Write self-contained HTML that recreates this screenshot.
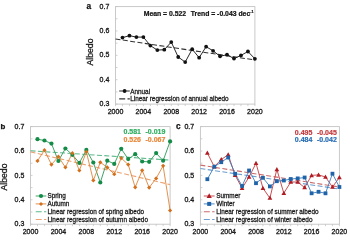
<!DOCTYPE html>
<html><head><meta charset="utf-8"><style>
html,body{margin:0;padding:0;background:#fff;width:350px;height:237px;overflow:hidden}
svg{display:block;will-change:transform}
.t{font-family:"Liberation Sans", sans-serif;font-size:7px;fill:#1a1a1a;stroke:#1a1a1a;stroke-width:0.32px}
.lg{font-family:"Liberation Sans", sans-serif;font-size:6.4px;fill:#1a1a1a;stroke:#1a1a1a;stroke-width:0.26px}
.bt{font-family:"Liberation Sans", sans-serif;font-size:7px;font-weight:bold;fill:#111;stroke:#111;stroke-width:0.2px}
.lt{font-family:"Liberation Sans", sans-serif;font-size:8.6px;font-weight:bold;fill:#111;stroke:#111;stroke-width:0.25px}
.al{font-family:"Liberation Sans", sans-serif;font-size:8.7px;fill:#1a1a1a;stroke:#1a1a1a;stroke-width:0.3px}
</style></head><body>
<svg width="350" height="237" viewBox="0 0 350 237">
<rect x="115.5" y="6.6" width="139.4" height="97.5" fill="none" stroke="#c4c4c4" stroke-width="0.9"/>
<line x1="115.5" y1="104.10" x2="117.5" y2="104.10" stroke="#c4c4c4" stroke-width="0.8"/>
<line x1="115.5" y1="91.91" x2="117.5" y2="91.91" stroke="#c4c4c4" stroke-width="0.8"/>
<line x1="115.5" y1="79.72" x2="117.5" y2="79.72" stroke="#c4c4c4" stroke-width="0.8"/>
<line x1="115.5" y1="67.54" x2="117.5" y2="67.54" stroke="#c4c4c4" stroke-width="0.8"/>
<line x1="115.5" y1="55.35" x2="117.5" y2="55.35" stroke="#c4c4c4" stroke-width="0.8"/>
<line x1="115.5" y1="43.16" x2="117.5" y2="43.16" stroke="#c4c4c4" stroke-width="0.8"/>
<line x1="115.5" y1="30.97" x2="117.5" y2="30.97" stroke="#c4c4c4" stroke-width="0.8"/>
<line x1="115.5" y1="18.79" x2="117.5" y2="18.79" stroke="#c4c4c4" stroke-width="0.8"/>
<line x1="115.5" y1="6.60" x2="117.5" y2="6.60" stroke="#c4c4c4" stroke-width="0.8"/>
<line x1="115.50" y1="104.1" x2="115.50" y2="106.1" stroke="#c4c4c4" stroke-width="0.8"/>
<line x1="122.47" y1="104.1" x2="122.47" y2="106.1" stroke="#c4c4c4" stroke-width="0.8"/>
<line x1="129.44" y1="104.1" x2="129.44" y2="106.1" stroke="#c4c4c4" stroke-width="0.8"/>
<line x1="136.41" y1="104.1" x2="136.41" y2="106.1" stroke="#c4c4c4" stroke-width="0.8"/>
<line x1="143.38" y1="104.1" x2="143.38" y2="106.1" stroke="#c4c4c4" stroke-width="0.8"/>
<line x1="150.35" y1="104.1" x2="150.35" y2="106.1" stroke="#c4c4c4" stroke-width="0.8"/>
<line x1="157.32" y1="104.1" x2="157.32" y2="106.1" stroke="#c4c4c4" stroke-width="0.8"/>
<line x1="164.29" y1="104.1" x2="164.29" y2="106.1" stroke="#c4c4c4" stroke-width="0.8"/>
<line x1="171.26" y1="104.1" x2="171.26" y2="106.1" stroke="#c4c4c4" stroke-width="0.8"/>
<line x1="178.23" y1="104.1" x2="178.23" y2="106.1" stroke="#c4c4c4" stroke-width="0.8"/>
<line x1="185.20" y1="104.1" x2="185.20" y2="106.1" stroke="#c4c4c4" stroke-width="0.8"/>
<line x1="192.17" y1="104.1" x2="192.17" y2="106.1" stroke="#c4c4c4" stroke-width="0.8"/>
<line x1="199.14" y1="104.1" x2="199.14" y2="106.1" stroke="#c4c4c4" stroke-width="0.8"/>
<line x1="206.11" y1="104.1" x2="206.11" y2="106.1" stroke="#c4c4c4" stroke-width="0.8"/>
<line x1="213.08" y1="104.1" x2="213.08" y2="106.1" stroke="#c4c4c4" stroke-width="0.8"/>
<line x1="220.05" y1="104.1" x2="220.05" y2="106.1" stroke="#c4c4c4" stroke-width="0.8"/>
<line x1="227.02" y1="104.1" x2="227.02" y2="106.1" stroke="#c4c4c4" stroke-width="0.8"/>
<line x1="233.99" y1="104.1" x2="233.99" y2="106.1" stroke="#c4c4c4" stroke-width="0.8"/>
<line x1="240.96" y1="104.1" x2="240.96" y2="106.1" stroke="#c4c4c4" stroke-width="0.8"/>
<line x1="247.93" y1="104.1" x2="247.93" y2="106.1" stroke="#c4c4c4" stroke-width="0.8"/>
<line x1="254.90" y1="104.1" x2="254.90" y2="106.1" stroke="#c4c4c4" stroke-width="0.8"/>
<text x="109.3" y="106.20" text-anchor="end" class="t">0.3</text>
<text x="109.3" y="81.82" text-anchor="end" class="t">0.4</text>
<text x="109.3" y="57.45" text-anchor="end" class="t">0.5</text>
<text x="109.3" y="33.07" text-anchor="end" class="t">0.6</text>
<text x="109.3" y="8.70" text-anchor="end" class="t">0.7</text>
<text x="115.50" y="114.20" text-anchor="middle" class="t">2000</text>
<text x="143.38" y="114.20" text-anchor="middle" class="t">2004</text>
<text x="171.26" y="114.20" text-anchor="middle" class="t">2008</text>
<text x="199.14" y="114.20" text-anchor="middle" class="t">2012</text>
<text x="227.02" y="114.20" text-anchor="middle" class="t">2016</text>
<text x="254.90" y="114.20" text-anchor="middle" class="t">2020</text>
<line x1="115.5" y1="38.98" x2="254.9" y2="59.94" stroke="#333333" stroke-width="1.1" stroke-dasharray="5,2.4"/>
<polyline points="122.47,37.60 129.44,35.70 136.41,37.10 143.38,37.10 150.35,45.60 157.32,50.10 164.29,49.70 171.26,42.10 178.23,57.00 185.20,62.10 192.17,49.20 199.14,57.70 206.11,46.70 213.08,50.80 220.05,56.30 227.02,54.70 233.99,58.60 240.96,55.40 247.93,51.50 254.90,58.80" fill="none" stroke="#111111" stroke-width="0.9" stroke-linejoin="round"/>
<circle cx="122.47" cy="37.60" r="1.9" fill="#111111"/>
<circle cx="129.44" cy="35.70" r="1.9" fill="#111111"/>
<circle cx="136.41" cy="37.10" r="1.9" fill="#111111"/>
<circle cx="143.38" cy="37.10" r="1.9" fill="#111111"/>
<circle cx="150.35" cy="45.60" r="1.9" fill="#111111"/>
<circle cx="157.32" cy="50.10" r="1.9" fill="#111111"/>
<circle cx="164.29" cy="49.70" r="1.9" fill="#111111"/>
<circle cx="171.26" cy="42.10" r="1.9" fill="#111111"/>
<circle cx="178.23" cy="57.00" r="1.9" fill="#111111"/>
<circle cx="185.20" cy="62.10" r="1.9" fill="#111111"/>
<circle cx="192.17" cy="49.20" r="1.9" fill="#111111"/>
<circle cx="199.14" cy="57.70" r="1.9" fill="#111111"/>
<circle cx="206.11" cy="46.70" r="1.9" fill="#111111"/>
<circle cx="213.08" cy="50.80" r="1.9" fill="#111111"/>
<circle cx="220.05" cy="56.30" r="1.9" fill="#111111"/>
<circle cx="227.02" cy="54.70" r="1.9" fill="#111111"/>
<circle cx="233.99" cy="58.60" r="1.9" fill="#111111"/>
<circle cx="240.96" cy="55.40" r="1.9" fill="#111111"/>
<circle cx="247.93" cy="51.50" r="1.9" fill="#111111"/>
<circle cx="254.90" cy="58.80" r="1.9" fill="#111111"/>
<text x="86.4" y="9.3" class="lt" style="font-size:8.3px">a</text>
<text x="93.1" y="52" class="al" text-anchor="middle" transform="rotate(-90 93.1 52)">Albedo</text>
<text x="143.7" y="15.6" class="bt" style="font-size:6.85px">Mean = 0.522</text>
<text x="190.7" y="15.6" class="bt" style="font-size:6.85px">Trend = -0.043 dec<tspan dy="-2.9" style="font-size:3.8px">-1</tspan></text>
<line x1="119.2" y1="91.0" x2="129.8" y2="91.0" stroke="#111111" stroke-width="0.9"/>
<circle cx="124.6" cy="91.0" r="1.9" fill="#111111"/>
<text x="130.2" y="93.6" class="lg">Annual</text>
<line x1="119.2" y1="98.9" x2="129.8" y2="98.9" stroke="#333" stroke-width="1.1" stroke-dasharray="6,2.3"/>
<text x="130.2" y="101.4" class="lg">Linear regression of annual albedo</text>
<rect x="30.5" y="126.6" width="139.6" height="97.6" fill="none" stroke="#c4c4c4" stroke-width="0.9"/>
<line x1="30.5" y1="224.20" x2="32.5" y2="224.20" stroke="#c4c4c4" stroke-width="0.8"/>
<line x1="30.5" y1="212.00" x2="32.5" y2="212.00" stroke="#c4c4c4" stroke-width="0.8"/>
<line x1="30.5" y1="199.80" x2="32.5" y2="199.80" stroke="#c4c4c4" stroke-width="0.8"/>
<line x1="30.5" y1="187.60" x2="32.5" y2="187.60" stroke="#c4c4c4" stroke-width="0.8"/>
<line x1="30.5" y1="175.40" x2="32.5" y2="175.40" stroke="#c4c4c4" stroke-width="0.8"/>
<line x1="30.5" y1="163.20" x2="32.5" y2="163.20" stroke="#c4c4c4" stroke-width="0.8"/>
<line x1="30.5" y1="151.00" x2="32.5" y2="151.00" stroke="#c4c4c4" stroke-width="0.8"/>
<line x1="30.5" y1="138.80" x2="32.5" y2="138.80" stroke="#c4c4c4" stroke-width="0.8"/>
<line x1="30.5" y1="126.60" x2="32.5" y2="126.60" stroke="#c4c4c4" stroke-width="0.8"/>
<line x1="30.50" y1="224.2" x2="30.50" y2="226.2" stroke="#c4c4c4" stroke-width="0.8"/>
<line x1="37.48" y1="224.2" x2="37.48" y2="226.2" stroke="#c4c4c4" stroke-width="0.8"/>
<line x1="44.46" y1="224.2" x2="44.46" y2="226.2" stroke="#c4c4c4" stroke-width="0.8"/>
<line x1="51.44" y1="224.2" x2="51.44" y2="226.2" stroke="#c4c4c4" stroke-width="0.8"/>
<line x1="58.42" y1="224.2" x2="58.42" y2="226.2" stroke="#c4c4c4" stroke-width="0.8"/>
<line x1="65.40" y1="224.2" x2="65.40" y2="226.2" stroke="#c4c4c4" stroke-width="0.8"/>
<line x1="72.38" y1="224.2" x2="72.38" y2="226.2" stroke="#c4c4c4" stroke-width="0.8"/>
<line x1="79.36" y1="224.2" x2="79.36" y2="226.2" stroke="#c4c4c4" stroke-width="0.8"/>
<line x1="86.34" y1="224.2" x2="86.34" y2="226.2" stroke="#c4c4c4" stroke-width="0.8"/>
<line x1="93.32" y1="224.2" x2="93.32" y2="226.2" stroke="#c4c4c4" stroke-width="0.8"/>
<line x1="100.30" y1="224.2" x2="100.30" y2="226.2" stroke="#c4c4c4" stroke-width="0.8"/>
<line x1="107.28" y1="224.2" x2="107.28" y2="226.2" stroke="#c4c4c4" stroke-width="0.8"/>
<line x1="114.26" y1="224.2" x2="114.26" y2="226.2" stroke="#c4c4c4" stroke-width="0.8"/>
<line x1="121.24" y1="224.2" x2="121.24" y2="226.2" stroke="#c4c4c4" stroke-width="0.8"/>
<line x1="128.22" y1="224.2" x2="128.22" y2="226.2" stroke="#c4c4c4" stroke-width="0.8"/>
<line x1="135.20" y1="224.2" x2="135.20" y2="226.2" stroke="#c4c4c4" stroke-width="0.8"/>
<line x1="142.18" y1="224.2" x2="142.18" y2="226.2" stroke="#c4c4c4" stroke-width="0.8"/>
<line x1="149.16" y1="224.2" x2="149.16" y2="226.2" stroke="#c4c4c4" stroke-width="0.8"/>
<line x1="156.14" y1="224.2" x2="156.14" y2="226.2" stroke="#c4c4c4" stroke-width="0.8"/>
<line x1="163.12" y1="224.2" x2="163.12" y2="226.2" stroke="#c4c4c4" stroke-width="0.8"/>
<line x1="170.10" y1="224.2" x2="170.10" y2="226.2" stroke="#c4c4c4" stroke-width="0.8"/>
<text x="24.3" y="226.30" text-anchor="end" class="t">0.3</text>
<text x="24.3" y="201.90" text-anchor="end" class="t">0.4</text>
<text x="24.3" y="177.50" text-anchor="end" class="t">0.5</text>
<text x="24.3" y="153.10" text-anchor="end" class="t">0.6</text>
<text x="24.3" y="128.70" text-anchor="end" class="t">0.7</text>
<text x="30.50" y="234.30" text-anchor="middle" class="t">2000</text>
<text x="58.42" y="234.30" text-anchor="middle" class="t">2004</text>
<text x="86.34" y="234.30" text-anchor="middle" class="t">2008</text>
<text x="114.26" y="234.30" text-anchor="middle" class="t">2012</text>
<text x="142.18" y="234.30" text-anchor="middle" class="t">2016</text>
<text x="170.10" y="234.30" text-anchor="middle" class="t">2020</text>
<line x1="30.5" y1="150.77" x2="170.1" y2="160.04" stroke="#5cb98a" stroke-width="1.1" stroke-dasharray="5,2.4"/>
<line x1="30.5" y1="151.89" x2="170.1" y2="184.59" stroke="#eba372" stroke-width="1.1" stroke-dasharray="5,2.4"/>
<polyline points="37.48,139.20 44.46,140.50 51.44,143.60 58.42,161.00 65.40,148.50 72.38,154.80 79.36,162.90 86.34,149.90 93.32,162.50 100.30,182.50 107.28,160.70 114.26,163.90 121.24,148.80 128.22,159.10 135.20,154.20 142.18,161.50 149.16,161.80 156.14,153.10 163.12,160.70 170.10,141.40" fill="none" stroke="#2a9a58" stroke-width="0.9" stroke-linejoin="round"/>
<polyline points="37.48,160.90 44.46,150.20 51.44,164.60 58.42,156.70 65.40,167.30 72.38,153.20 79.36,170.50 86.34,151.80 93.32,180.40 100.30,162.30 107.28,167.40 114.26,174.20 121.24,158.10 128.22,164.60 135.20,187.30 142.18,170.30 149.16,187.60 156.14,178.40 163.12,165.80 170.10,210.50" fill="none" stroke="#e0843a" stroke-width="0.9" stroke-linejoin="round"/>
<circle cx="37.48" cy="139.20" r="2.1" fill="#148c48"/>
<circle cx="44.46" cy="140.50" r="2.1" fill="#148c48"/>
<circle cx="51.44" cy="143.60" r="2.1" fill="#148c48"/>
<circle cx="58.42" cy="161.00" r="2.1" fill="#148c48"/>
<circle cx="65.40" cy="148.50" r="2.1" fill="#148c48"/>
<circle cx="72.38" cy="154.80" r="2.1" fill="#148c48"/>
<circle cx="79.36" cy="162.90" r="2.1" fill="#148c48"/>
<circle cx="86.34" cy="149.90" r="2.1" fill="#148c48"/>
<circle cx="93.32" cy="162.50" r="2.1" fill="#148c48"/>
<circle cx="100.30" cy="182.50" r="2.1" fill="#148c48"/>
<circle cx="107.28" cy="160.70" r="2.1" fill="#148c48"/>
<circle cx="114.26" cy="163.90" r="2.1" fill="#148c48"/>
<circle cx="121.24" cy="148.80" r="2.1" fill="#148c48"/>
<circle cx="128.22" cy="159.10" r="2.1" fill="#148c48"/>
<circle cx="135.20" cy="154.20" r="2.1" fill="#148c48"/>
<circle cx="142.18" cy="161.50" r="2.1" fill="#148c48"/>
<circle cx="149.16" cy="161.80" r="2.1" fill="#148c48"/>
<circle cx="156.14" cy="153.10" r="2.1" fill="#148c48"/>
<circle cx="163.12" cy="160.70" r="2.1" fill="#148c48"/>
<circle cx="170.10" cy="141.40" r="2.1" fill="#148c48"/>
<path d="M37.48,158.80L39.58,160.90L37.48,163.00L35.38,160.90Z" fill="#d2701e"/>
<path d="M44.46,148.10L46.56,150.20L44.46,152.30L42.36,150.20Z" fill="#d2701e"/>
<path d="M51.44,162.50L53.54,164.60L51.44,166.70L49.34,164.60Z" fill="#d2701e"/>
<path d="M58.42,154.60L60.52,156.70L58.42,158.80L56.32,156.70Z" fill="#d2701e"/>
<path d="M65.40,165.20L67.50,167.30L65.40,169.40L63.30,167.30Z" fill="#d2701e"/>
<path d="M72.38,151.10L74.48,153.20L72.38,155.30L70.28,153.20Z" fill="#d2701e"/>
<path d="M79.36,168.40L81.46,170.50L79.36,172.60L77.26,170.50Z" fill="#d2701e"/>
<path d="M86.34,149.70L88.44,151.80L86.34,153.90L84.24,151.80Z" fill="#d2701e"/>
<path d="M93.32,178.30L95.42,180.40L93.32,182.50L91.22,180.40Z" fill="#d2701e"/>
<path d="M100.30,160.20L102.40,162.30L100.30,164.40L98.20,162.30Z" fill="#d2701e"/>
<path d="M107.28,165.30L109.38,167.40L107.28,169.50L105.18,167.40Z" fill="#d2701e"/>
<path d="M114.26,172.10L116.36,174.20L114.26,176.30L112.16,174.20Z" fill="#d2701e"/>
<path d="M121.24,156.00L123.34,158.10L121.24,160.20L119.14,158.10Z" fill="#d2701e"/>
<path d="M128.22,162.50L130.32,164.60L128.22,166.70L126.12,164.60Z" fill="#d2701e"/>
<path d="M135.20,185.20L137.30,187.30L135.20,189.40L133.10,187.30Z" fill="#d2701e"/>
<path d="M142.18,168.20L144.28,170.30L142.18,172.40L140.08,170.30Z" fill="#d2701e"/>
<path d="M149.16,185.50L151.26,187.60L149.16,189.70L147.06,187.60Z" fill="#d2701e"/>
<path d="M156.14,176.30L158.24,178.40L156.14,180.50L154.04,178.40Z" fill="#d2701e"/>
<path d="M163.12,163.70L165.22,165.80L163.12,167.90L161.02,165.80Z" fill="#d2701e"/>
<path d="M170.10,208.40L172.20,210.50L170.10,212.60L168.00,210.50Z" fill="#d2701e"/>
<text x="0.4" y="129.0" class="lt" style="font-size:7.9px">b</text>
<text x="7.4" y="177" class="al" text-anchor="middle" transform="rotate(-90 7.4 177)">Albedo</text>
<text x="123.5" y="134.4" class="bt" style="fill:#2fae60;stroke:#2fae60">0.581</text>
<text x="165.4" y="134.4" class="bt" style="fill:#2fae60;stroke:#2fae60" text-anchor="end">-0.019</text>
<text x="123.5" y="142" class="bt" style="fill:#e8873a;stroke:#e8873a">0.526</text>
<text x="165.4" y="142" class="bt" style="fill:#e8873a;stroke:#e8873a" text-anchor="end">-0.067</text>
<line x1="35.7" y1="196.0" x2="46.3" y2="196.0" stroke="#2a9a58" stroke-width="0.9"/>
<circle cx="41" cy="196.0" r="2.1" fill="#148c48"/>
<text x="47.4" y="198.3" class="lg">Spring</text>
<line x1="35.7" y1="203.9" x2="46.3" y2="203.9" stroke="#e0843a" stroke-width="0.9"/>
<path d="M41,201.9L43,203.9L41,205.9L39,203.9Z" fill="#d2701e"/>
<text x="47.4" y="206.20000000000002" class="lg">Autumn</text>
<line x1="35.7" y1="211.7" x2="46.3" y2="211.7" stroke="#5cb98a" stroke-width="1.1" stroke-dasharray="6,2.3"/>
<text x="47.4" y="214.0" class="lg">Linear regression of spring albedo</text>
<line x1="35.7" y1="219.5" x2="46.3" y2="219.5" stroke="#eba372" stroke-width="1.1" stroke-dasharray="6,2.3"/>
<text x="47.4" y="221.8" class="lg">Linear regression of autumn albedo</text>
<rect x="200.4" y="126.6" width="138.99999999999997" height="97.6" fill="none" stroke="#c4c4c4" stroke-width="0.9"/>
<line x1="200.4" y1="224.20" x2="202.4" y2="224.20" stroke="#c4c4c4" stroke-width="0.8"/>
<line x1="200.4" y1="212.00" x2="202.4" y2="212.00" stroke="#c4c4c4" stroke-width="0.8"/>
<line x1="200.4" y1="199.80" x2="202.4" y2="199.80" stroke="#c4c4c4" stroke-width="0.8"/>
<line x1="200.4" y1="187.60" x2="202.4" y2="187.60" stroke="#c4c4c4" stroke-width="0.8"/>
<line x1="200.4" y1="175.40" x2="202.4" y2="175.40" stroke="#c4c4c4" stroke-width="0.8"/>
<line x1="200.4" y1="163.20" x2="202.4" y2="163.20" stroke="#c4c4c4" stroke-width="0.8"/>
<line x1="200.4" y1="151.00" x2="202.4" y2="151.00" stroke="#c4c4c4" stroke-width="0.8"/>
<line x1="200.4" y1="138.80" x2="202.4" y2="138.80" stroke="#c4c4c4" stroke-width="0.8"/>
<line x1="200.4" y1="126.60" x2="202.4" y2="126.60" stroke="#c4c4c4" stroke-width="0.8"/>
<line x1="200.40" y1="224.2" x2="200.40" y2="226.2" stroke="#c4c4c4" stroke-width="0.8"/>
<line x1="207.35" y1="224.2" x2="207.35" y2="226.2" stroke="#c4c4c4" stroke-width="0.8"/>
<line x1="214.30" y1="224.2" x2="214.30" y2="226.2" stroke="#c4c4c4" stroke-width="0.8"/>
<line x1="221.25" y1="224.2" x2="221.25" y2="226.2" stroke="#c4c4c4" stroke-width="0.8"/>
<line x1="228.20" y1="224.2" x2="228.20" y2="226.2" stroke="#c4c4c4" stroke-width="0.8"/>
<line x1="235.15" y1="224.2" x2="235.15" y2="226.2" stroke="#c4c4c4" stroke-width="0.8"/>
<line x1="242.10" y1="224.2" x2="242.10" y2="226.2" stroke="#c4c4c4" stroke-width="0.8"/>
<line x1="249.05" y1="224.2" x2="249.05" y2="226.2" stroke="#c4c4c4" stroke-width="0.8"/>
<line x1="256.00" y1="224.2" x2="256.00" y2="226.2" stroke="#c4c4c4" stroke-width="0.8"/>
<line x1="262.95" y1="224.2" x2="262.95" y2="226.2" stroke="#c4c4c4" stroke-width="0.8"/>
<line x1="269.90" y1="224.2" x2="269.90" y2="226.2" stroke="#c4c4c4" stroke-width="0.8"/>
<line x1="276.85" y1="224.2" x2="276.85" y2="226.2" stroke="#c4c4c4" stroke-width="0.8"/>
<line x1="283.80" y1="224.2" x2="283.80" y2="226.2" stroke="#c4c4c4" stroke-width="0.8"/>
<line x1="290.75" y1="224.2" x2="290.75" y2="226.2" stroke="#c4c4c4" stroke-width="0.8"/>
<line x1="297.70" y1="224.2" x2="297.70" y2="226.2" stroke="#c4c4c4" stroke-width="0.8"/>
<line x1="304.65" y1="224.2" x2="304.65" y2="226.2" stroke="#c4c4c4" stroke-width="0.8"/>
<line x1="311.60" y1="224.2" x2="311.60" y2="226.2" stroke="#c4c4c4" stroke-width="0.8"/>
<line x1="318.55" y1="224.2" x2="318.55" y2="226.2" stroke="#c4c4c4" stroke-width="0.8"/>
<line x1="325.50" y1="224.2" x2="325.50" y2="226.2" stroke="#c4c4c4" stroke-width="0.8"/>
<line x1="332.45" y1="224.2" x2="332.45" y2="226.2" stroke="#c4c4c4" stroke-width="0.8"/>
<line x1="339.40" y1="224.2" x2="339.40" y2="226.2" stroke="#c4c4c4" stroke-width="0.8"/>
<text x="194.20000000000002" y="226.30" text-anchor="end" class="t">0.3</text>
<text x="194.20000000000002" y="201.90" text-anchor="end" class="t">0.4</text>
<text x="194.20000000000002" y="177.50" text-anchor="end" class="t">0.5</text>
<text x="194.20000000000002" y="153.10" text-anchor="end" class="t">0.6</text>
<text x="194.20000000000002" y="128.70" text-anchor="end" class="t">0.7</text>
<text x="200.40" y="234.30" text-anchor="middle" class="t">2000</text>
<text x="228.20" y="234.30" text-anchor="middle" class="t">2004</text>
<text x="256.00" y="234.30" text-anchor="middle" class="t">2008</text>
<text x="283.80" y="234.30" text-anchor="middle" class="t">2012</text>
<text x="311.60" y="234.30" text-anchor="middle" class="t">2016</text>
<text x="339.40" y="234.30" text-anchor="middle" class="t">2020</text>
<line x1="200.4" y1="165.09" x2="339.4" y2="187.05" stroke="#cc6b6b" stroke-width="1.1" stroke-dasharray="5,2.4"/>
<line x1="200.4" y1="168.54" x2="339.4" y2="189.04" stroke="#6c9ecf" stroke-width="1.1" stroke-dasharray="5,2.4"/>
<polyline points="207.35,153.00 214.30,166.70 221.25,159.50 228.20,154.80 235.15,175.30 242.10,188.20 249.05,177.00 256.00,163.20 262.95,188.20 269.90,198.10 276.85,169.40 283.80,193.20 290.75,182.00 297.70,182.00 304.65,187.60 311.60,175.40 318.55,174.90 325.50,177.00 332.45,187.00 339.40,177.50" fill="none" stroke="#c43a3e" stroke-width="0.9" stroke-linejoin="round"/>
<polyline points="207.35,179.20 214.30,166.70 221.25,162.20 228.20,157.50 235.15,173.80 242.10,186.00 249.05,170.50 256.00,183.20 262.95,177.80 269.90,186.40 276.85,181.20 283.80,180.50 290.75,179.00 297.70,178.40 304.65,177.50 311.60,193.30 318.55,191.80 325.50,193.30 332.45,173.70 339.40,187.00" fill="none" stroke="#3a7cc0" stroke-width="0.9" stroke-linejoin="round"/>
<path d="M207.35,150.50L209.72,154.75L204.97,154.75Z" fill="#b01c24"/>
<path d="M214.30,164.20L216.68,168.45L211.93,168.45Z" fill="#b01c24"/>
<path d="M221.25,157.00L223.62,161.25L218.88,161.25Z" fill="#b01c24"/>
<path d="M228.20,152.30L230.57,156.55L225.82,156.55Z" fill="#b01c24"/>
<path d="M235.15,172.80L237.53,177.05L232.78,177.05Z" fill="#b01c24"/>
<path d="M242.10,185.70L244.47,189.95L239.72,189.95Z" fill="#b01c24"/>
<path d="M249.05,174.50L251.43,178.75L246.68,178.75Z" fill="#b01c24"/>
<path d="M256.00,160.70L258.38,164.95L253.62,164.95Z" fill="#b01c24"/>
<path d="M262.95,185.70L265.32,189.95L260.57,189.95Z" fill="#b01c24"/>
<path d="M269.90,195.60L272.27,199.85L267.52,199.85Z" fill="#b01c24"/>
<path d="M276.85,166.90L279.23,171.15L274.48,171.15Z" fill="#b01c24"/>
<path d="M283.80,190.70L286.17,194.95L281.42,194.95Z" fill="#b01c24"/>
<path d="M290.75,179.50L293.12,183.75L288.38,183.75Z" fill="#b01c24"/>
<path d="M297.70,179.50L300.07,183.75L295.32,183.75Z" fill="#b01c24"/>
<path d="M304.65,185.10L307.02,189.35L302.27,189.35Z" fill="#b01c24"/>
<path d="M311.60,172.90L313.97,177.15L309.22,177.15Z" fill="#b01c24"/>
<path d="M318.55,172.40L320.92,176.65L316.17,176.65Z" fill="#b01c24"/>
<path d="M325.50,174.50L327.88,178.75L323.12,178.75Z" fill="#b01c24"/>
<path d="M332.45,184.50L334.82,188.75L330.07,188.75Z" fill="#b01c24"/>
<path d="M339.40,175.00L341.77,179.25L337.02,179.25Z" fill="#b01c24"/>
<rect x="205.45" y="177.30" width="3.8" height="3.8" fill="#1f64a8"/>
<rect x="212.40" y="164.80" width="3.8" height="3.8" fill="#1f64a8"/>
<rect x="219.35" y="160.30" width="3.8" height="3.8" fill="#1f64a8"/>
<rect x="226.30" y="155.60" width="3.8" height="3.8" fill="#1f64a8"/>
<rect x="233.25" y="171.90" width="3.8" height="3.8" fill="#1f64a8"/>
<rect x="240.20" y="184.10" width="3.8" height="3.8" fill="#1f64a8"/>
<rect x="247.15" y="168.60" width="3.8" height="3.8" fill="#1f64a8"/>
<rect x="254.10" y="181.30" width="3.8" height="3.8" fill="#1f64a8"/>
<rect x="261.05" y="175.90" width="3.8" height="3.8" fill="#1f64a8"/>
<rect x="268.00" y="184.50" width="3.8" height="3.8" fill="#1f64a8"/>
<rect x="274.95" y="179.30" width="3.8" height="3.8" fill="#1f64a8"/>
<rect x="281.90" y="178.60" width="3.8" height="3.8" fill="#1f64a8"/>
<rect x="288.85" y="177.10" width="3.8" height="3.8" fill="#1f64a8"/>
<rect x="295.80" y="176.50" width="3.8" height="3.8" fill="#1f64a8"/>
<rect x="302.75" y="175.60" width="3.8" height="3.8" fill="#1f64a8"/>
<rect x="309.70" y="191.40" width="3.8" height="3.8" fill="#1f64a8"/>
<rect x="316.65" y="189.90" width="3.8" height="3.8" fill="#1f64a8"/>
<rect x="323.60" y="191.40" width="3.8" height="3.8" fill="#1f64a8"/>
<rect x="330.55" y="171.80" width="3.8" height="3.8" fill="#1f64a8"/>
<rect x="337.50" y="185.10" width="3.8" height="3.8" fill="#1f64a8"/>
<text x="176.0" y="129.3" class="lt" style="font-size:8.3px">c</text>
<text x="294.8" y="134.8" class="bt" style="fill:#c43a3e;stroke:#c43a3e">0.495</text>
<text x="336.8" y="134.8" class="bt" style="fill:#c43a3e;stroke:#c43a3e" text-anchor="end">-0.045</text>
<text x="294.8" y="142.4" class="bt" style="fill:#2b6fb4;stroke:#2b6fb4">0.484</text>
<text x="336.8" y="142.4" class="bt" style="fill:#2b6fb4;stroke:#2b6fb4" text-anchor="end">-0.042</text>
<line x1="203.8" y1="196.0" x2="214.6" y2="196.0" stroke="#c43a3e" stroke-width="0.9"/>
<path d="M209.2,193.3L211.79999999999998,197.9L206.6,197.9Z" fill="#b01c24"/>
<text x="216.2" y="198.3" class="lg">Summer</text>
<line x1="203.8" y1="203.9" x2="214.6" y2="203.9" stroke="#3a7cc0" stroke-width="0.9"/>
<rect x="207.2" y="201.9" width="4" height="4" fill="#1f64a8"/>
<text x="216.2" y="206.20000000000002" class="lg">Winter</text>
<line x1="203.8" y1="211.7" x2="214.6" y2="211.7" stroke="#cc6b6b" stroke-width="1.1" stroke-dasharray="6,2.3"/>
<text x="216.2" y="214.0" class="lg">Linear regression of summer albedo</text>
<line x1="203.8" y1="219.5" x2="214.6" y2="219.5" stroke="#6c9ecf" stroke-width="1.1" stroke-dasharray="6,2.3"/>
<text x="216.2" y="221.8" class="lg">Linear regression of winter albedo</text>
</svg>
</body></html>
